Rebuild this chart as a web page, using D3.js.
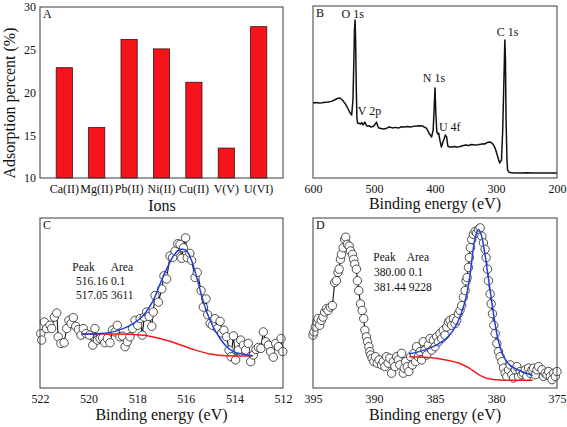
<!DOCTYPE html>
<html><head><meta charset="utf-8">
<script src="https://cdn.jsdelivr.net/npm/d3@7"></script>
<style>
body{margin:0;background:#fff;}
svg text{font-family:'Liberation Serif','Times New Roman',serif !important;fill:#111;}
</style></head><body>
<svg id="c" width="567" height="427"></svg>
<script>
// Panel A
const ions = ["Ca(II)","Mg(II)","Pb(II)","Ni(II)","Cu(II)","V(V)","U(VI)"];
const adsorption = [22.9,15.9,26.2,25.1,21.2,13.5,27.7];
const aTicks = [10,15,20,25,30];
// Panel B survey spectrum [energy, intensity]
const surveyE = [600,595,590,585,580,575,570,565,560,556,552,548,544,540,536.6,534.5,533,532,531,530,529,528,527,524,522,520,518,515,512,508,505,501,498,496,494,492,488,485,480,475,470,465,460,455,450,445,440,435,430,425,420,418,414,410,407.5,405.5,403,401.5,400,398.5,397,395.5,394,392,389.5,387,385,383,381,379,376,372,368,364,360,355,350,345,340,335,330,325,320,318,314,310,306,304,301,298,296,294,291,289,287,285.5,284.5,283.5,282,281,279,275,270,260,250,240,230,220,210,200];
const surveyI = [43.9,44.2,43.8,44.0,44.3,44.4,44.8,45.6,46.5,46.8,45.6,43.9,41.5,38.6,36.8,45.6,69.0,86.5,92.4,77.8,51.5,35.1,32.2,31.9,31.6,32.4,31.0,32.7,30.4,30.6,29.8,30.3,31.6,32.7,30.5,29.2,28.9,28.7,29.0,29.8,29.3,29.6,29.2,30.0,29.8,30.1,29.8,30.2,30.4,30.6,30.4,29.8,29.2,26.3,25.0,24.0,28.1,39.8,52.6,36.8,26.9,25.7,26.3,22.2,18.1,21.1,23.0,25.1,24.0,18.7,18.1,18.1,18.4,18.1,18.3,18.9,19.3,19.0,19.6,19.3,19.5,19.8,20.0,19.9,20.8,21.1,20.2,19.3,17.0,13.5,11.0,8.8,10.5,28.1,57.3,80.7,69.0,33.9,10.5,4.7,3.5,3.0,2.9,2.9,3.0,2.9,2.9,2.9,2.9,2.9];
const surveyLabels = ["O 1s","V 2p","N 1s","U 4f","C 1s"];
const surveyLabelE = [535,526.7,401.6,393.5,281];
const surveyLabelI = [93.5,37,56,27.5,83];
const bTicks = [600,500,400,300,200];
// Panel C: V 2p
const cE = [521.97,521.93,521.82,521.73,521.59,521.52,521.41,521.31,521.25,521.14,521.01,520.90,520.81,520.72,520.63,520.53,520.42,520.31,520.22,520.11,519.97,519.83,519.74,519.64,519.53,519.42,519.33,519.23,519.12,519.02,518.91,518.82,518.71,518.60,518.50,518.41,518.30,518.19,518.09,517.98,517.88,517.79,517.71,517.61,517.51,517.40,517.34,517.27,517.13,516.99,516.90,516.79,516.65,516.54,516.44,516.33,516.24,516.17,516.10,516.01,515.94,515.83,515.76,515.62,515.53,515.37,515.28,515.17,515.10,515.00,514.91,514.80,514.70,514.59,514.52,514.43,514.32,514.22,514.14,514.04,513.95,513.84,513.74,513.63,513.54,513.43,513.33,513.22,513.11,513.01,512.91,512.81,512.71,512.60,512.51,512.40,512.30,512.19,512.08,512.01];
const cI = [32.0,28.2,38.8,35.0,36.9,35.0,41.7,44.1,30.1,26.2,26.6,35.0,39.8,37.9,41.4,36.3,34.4,31.1,35.0,32.0,31.1,25.2,35.0,28.2,29.1,29.5,26.6,29.1,26.6,34.0,33.0,36.9,30.1,30.5,24.3,27.2,30.1,35.0,39.8,36.9,40.8,31.1,41.7,44.7,42.1,36.3,44.7,54.4,50.5,58.3,66.0,64.1,77.7,76.7,80.6,84.9,84.5,76.3,82.5,88.3,76.7,79.2,75.1,65.0,68.0,57.3,47.6,52.4,43.1,37.9,36.9,40.8,35.0,39.2,32.4,34.0,30.1,22.3,18.4,30.7,16.5,22.3,28.2,25.2,22.3,26.2,15.5,19.4,22.7,23.9,23.3,33.0,27.2,25.2,21.4,18.1,26.2,24.3,29.1,21.4];
const cFitE = [520.29,519.53,518.84,518.16,517.75,517.34,517.06,516.79,516.51,516.31,516.13,515.96,515.76,515.55,515.35,515.14,514.87,514.59,514.32,514.04,513.63,513.25];
const cFitI = [31.7,32.0,33.6,37.9,42.7,51.5,61.2,69.9,77.7,81.0,81.6,80.6,74.8,65.0,54.4,44.7,35.9,29.1,24.3,21.4,19.8,19.0];
const cBaseE = [520.29,518.84,517.75,517.06,516.38,515.69,515.00,514.32,513.25];
const cBaseI = [31.7,31.7,31.1,29.1,26.2,22.7,20.0,19.0,18.8];
const cTicks = [522,520,518,516,514,512];
const cPeak = ["516.16","517.05"], cArea = ["0.1","3611"];
// Panel D: U 4f
const dE = [395.00,394.92,394.81,394.67,394.59,394.45,394.32,394.18,394.04,393.90,393.77,393.58,393.41,393.22,393.08,392.95,392.86,392.75,392.67,392.53,392.40,392.32,392.18,392.04,391.93,391.77,391.66,391.58,391.44,391.36,391.25,391.11,390.97,390.84,390.75,390.62,390.53,390.42,390.34,390.26,390.15,390.01,389.88,389.74,389.58,389.38,389.25,389.11,388.97,388.84,388.70,388.56,388.42,388.29,388.15,388.01,387.88,387.74,387.60,387.52,387.41,387.27,387.14,387.00,386.86,386.73,386.59,386.51,386.37,386.23,386.10,385.96,385.82,385.68,385.55,385.41,385.27,385.14,385.00,384.86,384.73,384.59,384.45,384.32,384.18,384.04,383.90,383.77,383.63,383.49,383.36,383.22,383.08,382.95,382.81,382.67,382.53,382.45,382.37,382.26,382.18,382.10,381.99,381.85,381.71,381.58,381.44,381.30,381.16,381.03,380.89,380.81,380.70,380.62,380.48,380.40,380.29,380.18,380.07,379.93,379.79,379.66,379.52,379.38,379.25,379.11,378.97,378.84,378.70,378.56,378.42,378.29,378.15,378.01,377.88,377.74,377.60,377.47,377.33,377.19,377.05,376.92,376.78,376.64,376.51,376.23,376.10,375.96,375.82,375.68,375.55,375.41,375.27,375.14,375.00];
const dI = [31.1,33.0,35.9,38.8,40.8,36.9,39.8,41.7,44.7,46.6,45.6,47.6,48.5,62.1,63.1,68.0,69.9,75.7,78.6,82.5,87.4,88.7,84.5,83.5,80.6,78.6,75.7,72.8,69.9,63.1,57.3,49.5,45.6,40.8,34.0,30.1,27.2,24.3,21.4,19.4,17.5,15.5,18.4,14.6,16.5,13.6,15.5,12.6,18.4,14.6,17.5,8.7,15.5,12.6,18.4,16.5,13.6,20.4,8.7,11.7,15.5,12.6,9.7,18.4,13.6,20.4,15.5,24.3,18.4,21.4,16.5,27.2,22.3,19.4,25.2,29.1,22.3,28.2,24.3,30.1,27.2,32.0,29.1,34.0,31.1,35.9,38.8,39.8,36.9,40.8,37.9,39.8,43.7,45.6,48.5,53.4,57.3,63.1,65.0,70.9,76.7,82.5,87.4,90.3,92.2,91.3,93.2,94.2,89.3,85.4,81.6,76.7,69.9,63.1,55.3,49.5,43.7,36.9,32.0,26.2,21.4,18.4,15.5,11.7,8.7,6.8,10.7,13.6,7.8,5.8,10.7,12.6,6.8,9.7,7.8,8.7,10.7,6.8,11.7,8.7,10.7,11.7,7.8,10.7,12.6,10.7,6.8,8.7,7.8,9.7,6.8,4.9,8.7,6.8,9.7];
const dFitE = [387.11,386.29,385.47,384.64,383.82,383.27,382.86,382.45,382.12,381.85,381.63,381.44,381.22,380.95,380.67,380.40,380.12,379.85,379.44,378.89,378.07,376.99];
const dFitI = [20.0,21.4,23.3,26.2,31.1,36.9,43.7,53.4,67.0,82.5,90.3,93.2,90.3,80.6,67.0,53.4,39.8,29.1,19.4,13.6,10.3,7.4];
const dBaseE = [387.11,385.47,384.10,383.01,382.19,381.51,380.81,379.99,378.62,376.99];
const dBaseI = [18.4,17.9,16.5,14.6,11.7,8.3,5.8,4.9,4.5,4.5];
const dTicks = [395,390,385,380,375];
const dPeak = ["380.00","381.44"], dArea = ["0.1","9228"];

const svg = d3.select("#c");
const FS = 12, TS = 16, AS = 11.5;
const FF = "Liberation Serif";
const frameCol = "#3a3a3a";

function frame(g, x0, y0, x1, y1){
  g.append("rect").attr("x",x0).attr("y",y0).attr("width",x1-x0).attr("height",y1-y0)
   .attr("fill","none").attr("stroke",frameCol).attr("stroke-width",1);
}
function bottomAxis(x, y, ticks, fmt){
  const ax = svg.append("g").attr("transform",`translate(0,${y})`)
    .call(d3.axisBottom(x).tickValues(ticks).tickSize(0).tickPadding(6).tickFormat(fmt||d3.format("d")));
  ax.select(".domain").remove();
  ax.attr("font-family",FF);
  ax.selectAll("text").attr("font-size",FS).attr("fill","#111");
  return ax;
}

// ---------- Panel A ----------
{
  const L=40,R=283,T=7,B=178;
  const x = d3.scaleBand().domain(ions).range([L,R]).padding(0.5);
  const y = d3.scaleLinear().domain([10,30]).range([B,T]);
  svg.append("g").selectAll("rect").data(ions).join("rect")
    .attr("x",d=>x(d)).attr("width",x.bandwidth())
    .attr("y",(d,i)=>y(adsorption[i])).attr("height",(d,i)=>B-y(adsorption[i]))
    .attr("fill","#f5141c").attr("stroke","#3a1010").attr("stroke-width",0.8);
  frame(svg,L,T,R,B);
  const ya = svg.append("g").attr("transform",`translate(${L},0)`)
    .call(d3.axisLeft(y).tickValues(aTicks).tickSize(0).tickPadding(4));
  ya.select(".domain").remove();
  ya.attr("font-family",FF);
  ya.selectAll("text").attr("font-size",FS).attr("fill","#111");
  bottomAxis(x,B,ions,d=>d).selectAll("text").attr("dy","0.75em");
  svg.append("text").attr("x",L+3).attr("y",T+11).attr("font-size",FS).text("A");
  svg.append("text").attr("x",162).attr("y",211).attr("text-anchor","middle").attr("font-size",TS).text("Ions");
  svg.append("text").attr("transform",`translate(15,103) rotate(-90)`).attr("text-anchor","middle").attr("font-size",TS).text("Adsorption percent (%)");
}

// ---------- Panel B ----------
{
  const L=313,R=557,T=6,B=178;
  const x = d3.scaleLinear().domain([600,200]).range([L,R]);
  const y = d3.scaleLinear().domain([0,100]).range([B,T+1]);
  const line = d3.line().x(d=>x(d[0])).y(d=>y(d[1]));
  svg.append("path").datum(surveyE.map((e,i)=>[e,surveyI[i]])).attr("d",line)
    .attr("fill","none").attr("stroke","#111").attr("stroke-width",1.5).attr("stroke-linejoin","round");
  frame(svg,L,T,R,B);
  bottomAxis(x,B,bTicks).selectAll("text").attr("dy","0.75em");
  svg.append("text").attr("x",L+3).attr("y",T+11).attr("font-size",FS).text("B");
  surveyLabels.forEach((t,i)=>{
    svg.append("text").attr("x",x(surveyLabelE[i])).attr("y",y(surveyLabelI[i]))
      .attr("font-size",FS).attr("text-anchor", i===1||i===3 ? "start":"middle").text(t);
  });
  svg.append("text").attr("x",435).attr("y",209).attr("text-anchor","middle").attr("font-size",TS).text("Binding energy (eV)");
}

// ---------- spectrum panels ----------
function spectrum(L,R,T,B,dom,ticks,E,I,fitE,fitI,baseE,baseI,letter,peaks,areas,annX,annY,off,gap){
  const x = d3.scaleLinear().domain(dom).range([L,R]);
  const y = d3.scaleLinear().domain([0,100]).range([B,T]);
  const line = d3.line().x(d=>x(d[0])).y(d=>y(d[1]));
  const g = svg.append("g");
  const pts = E.map((e,i)=>[e,I[i]]);
  g.append("path").datum(pts).attr("d",line).attr("fill","none").attr("stroke","#111").attr("stroke-width",1.1);
  g.selectAll("circle").data(pts).join("circle")
    .attr("cx",d=>x(d[0])).attr("cy",d=>y(d[1])).attr("r",4.2)
    .attr("fill","#fff").attr("stroke","#222").attr("stroke-width",0.8);
  const sm = d3.line().x(d=>x(d[0])).y(d=>y(d[1])).curve(d3.curveMonotoneX);
  g.append("path").datum(baseE.map((e,i)=>[e,baseI[i]])).attr("d",sm).attr("fill","none").attr("stroke","#ee1c1c").attr("stroke-width",1.5);
  g.append("path").datum(fitE.map((e,i)=>[e,fitI[i]])).attr("d",d3.line().x(d=>x(d[0])).y(d=>y(d[1])).curve(d3.curveCatmullRom)).attr("fill","none").attr("stroke","#1e3fd8").attr("stroke-width",1.5);
  frame(svg,L,T,R,B);
  bottomAxis(x,B,ticks).selectAll("text").attr("dy","0.75em");
  svg.append("text").attr("x",L+3).attr("y",T+11).attr("font-size",FS).text(letter);
  svg.append("text").attr("x",(L+R)/2).attr("y",420).attr("text-anchor","middle").attr("font-size",TS).text("Binding energy (eV)");
  const ann = svg.append("g").attr("font-size",AS);
  ann.append("text").attr("x",annX).attr("y",annY).text("Peak");
  ann.append("text").attr("x",annX+off[0]).attr("y",annY).text("Area");
  peaks.forEach((p,i)=>{
    ann.append("text").attr("x",annX+off[1]).attr("y",annY+gap*(i+1)).attr("text-anchor","end").text(p);
    ann.append("text").attr("x",annX+off[2]).attr("y",annY+gap*(i+1)).text(areas[i]);
  });
}
spectrum(40,283,218,388,[522,512],cTicks,cE,cI,cFitE,cFitI,cBaseE,cBaseI,"C",cPeak,cArea,72.3,270.7,[38.4,35.4,38.6],14.2);
spectrum(313,557,218,388,[395,375],dTicks,dE,dI,dFitE,dFitI,dBaseE,dBaseI,"D",dPeak,dArea,373.3,261,[33.4,32.4,35.4],14.8);
</script>
</body></html>
